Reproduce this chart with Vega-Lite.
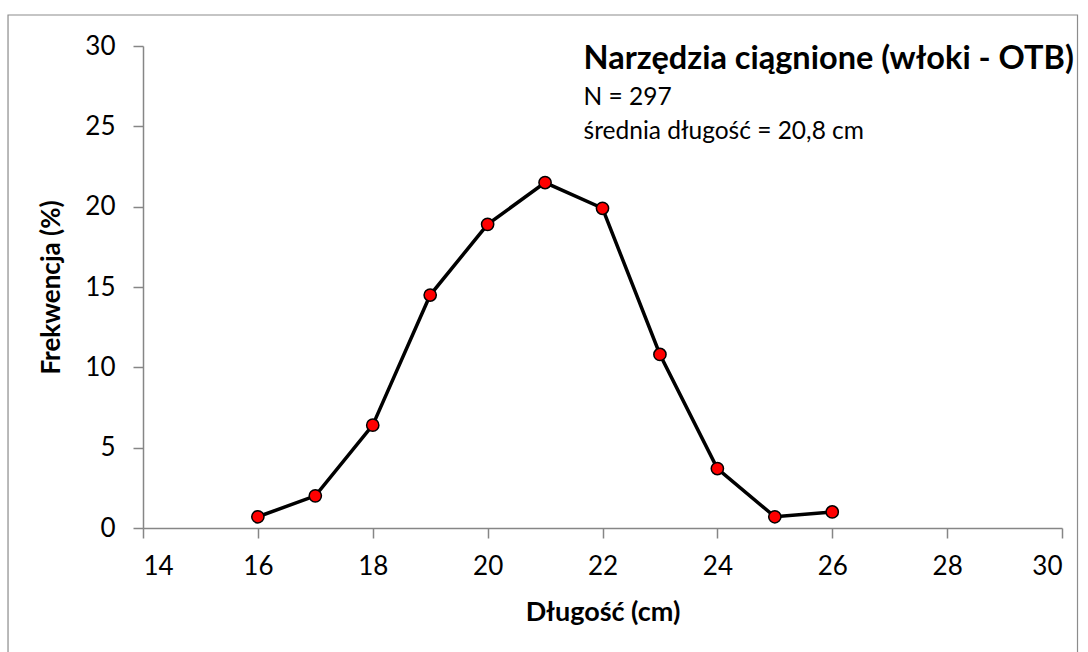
{
  "$schema": "https://vega.github.io/schema/vega-lite/v6.json",
  "width": 919,
  "height": 482,
  "autosize": {"type": "none"},
  "padding": {"left": 143, "top": 46, "right": 26, "bottom": 124},
  "background": "white",
  "config": {"view": {"stroke": null}, "font": "Lato"},
  "data": {
    "values": [
      {"length": 16, "freq": 0.7},
      {"length": 17, "freq": 2.0},
      {"length": 18, "freq": 6.4},
      {"length": 19, "freq": 14.5},
      {"length": 20, "freq": 18.9},
      {"length": 21, "freq": 21.5},
      {"length": 22, "freq": 19.9},
      {"length": 23, "freq": 10.8},
      {"length": 24, "freq": 3.7},
      {"length": 25, "freq": 0.7},
      {"length": 26, "freq": 1.0}
    ]
  },
  "layer": [
    {
      "mark": {"type": "line", "color": "black", "strokeWidth": 3.5},
      "encoding": {
        "x": {
          "field": "length",
          "type": "quantitative",
          "scale": {"domain": [14, 30], "nice": false, "zero": false},
          "axis": {
            "title": "Długość (cm)",
            "values": [14, 16, 18, 20, 22, 24, 26, 28, 30],
            "format": "d",
            "grid": false,
            "domainColor": "#868686",
            "domainWidth": 1.5,
            "tickColor": "#868686",
            "tickWidth": 1.5,
            "tickSize": 10,
            "labelFont": "Lato",
            "labelFontSize": 26,
            "labelColor": "black",
            "labelPadding": 15,
            "titleFont": "Lato",
            "titleFontSize": 27,
            "titleFontWeight": "bold",
            "titleColor": "black",
            "titleY": 84,
            "titleBaseline": "middle"
          }
        },
        "y": {
          "field": "freq",
          "type": "quantitative",
          "scale": {"domain": [0, 30], "nice": false},
          "axis": {
            "title": "Frekwencja (%)",
            "values": [0, 5, 10, 15, 20, 25, 30],
            "format": "d",
            "grid": false,
            "domainColor": "#868686",
            "domainWidth": 1.5,
            "tickColor": "#868686",
            "tickWidth": 1.5,
            "tickSize": 10,
            "labelFont": "Lato",
            "labelFontSize": 26,
            "labelColor": "black",
            "labelPadding": 18,
            "titleFont": "Lato",
            "titleFontSize": 26,
            "titleFontWeight": "bold",
            "titleColor": "black",
            "titleX": -92,
            "titleBaseline": "middle"
          }
        }
      }
    },
    {
      "mark": {"type": "point", "shape": "circle", "filled": true, "fill": "#ff0000", "stroke": "black", "strokeWidth": 1.5, "size": 150, "opacity": 1},
      "encoding": {
        "x": {"field": "length", "type": "quantitative"},
        "y": {"field": "freq", "type": "quantitative"}
      }
    },
    {
      "data": {"values": [{}]},
      "mark": {"type": "rect", "fill": null, "stroke": "#8c8c8c", "strokeWidth": 1.2},
      "encoding": {
        "x": {"datum": 11.65, "type": "quantitative"},
        "x2": {"datum": 30.27},
        "y": {"datum": 31.93, "type": "quantitative"},
        "y2": {"datum": -8.5}
      }
    },
    {
      "data": {"values": [{}]},
      "mark": {"type": "text", "text": "Narzędzia ciągnione (włoki - OTB)", "font": "Lato", "fontSize": 32.5, "fontWeight": "bold", "align": "left", "baseline": "alphabetic", "color": "black"},
      "encoding": {
        "x": {"datum": 21.67, "type": "quantitative"},
        "y": {"datum": 28.54, "type": "quantitative"}
      }
    },
    {
      "data": {"values": [{}]},
      "mark": {"type": "text", "text": "N = 297", "font": "Lato", "fontSize": 24.5, "align": "left", "baseline": "alphabetic", "color": "black"},
      "encoding": {
        "x": {"datum": 21.67, "type": "quantitative"},
        "y": {"datum": 26.33, "type": "quantitative"}
      }
    },
    {
      "data": {"values": [{}]},
      "mark": {"type": "text", "text": "średnia długość = 20,8 cm", "font": "Lato", "fontSize": 24.5, "align": "left", "baseline": "alphabetic", "color": "black"},
      "encoding": {
        "x": {"datum": 21.67, "type": "quantitative"},
        "y": {"datum": 24.19, "type": "quantitative"}
      }
    }
  ]
}
